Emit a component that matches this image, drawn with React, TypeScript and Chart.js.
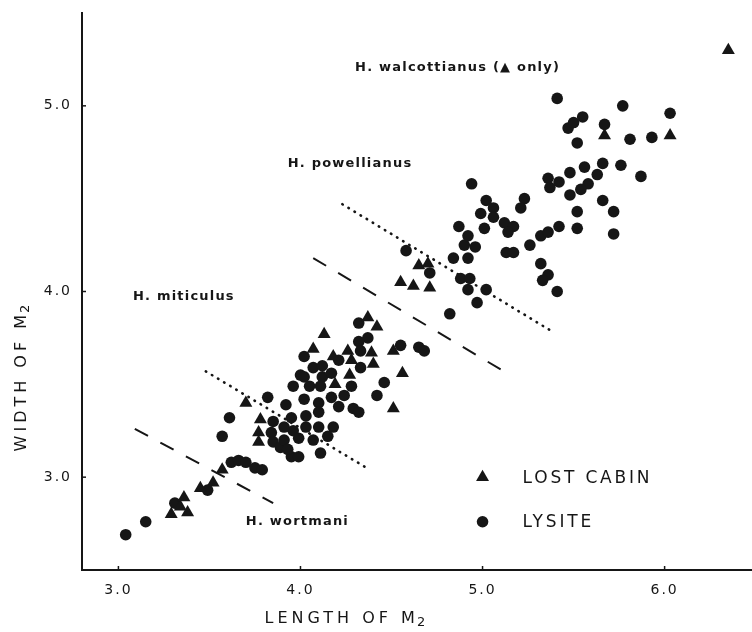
import React, { useEffect, useRef } from 'react';
import { Chart, registerables } from 'chart.js';

Chart.register(...registerables);

// ---- axis ticks ----
const xTicks = [3, 4, 5, 6];
const yTicks = [3, 4, 5];

// ---- LOST CABIN (triangles): [length, width] ----
const lostCabin: number[][] = [
  [3.29, 2.80], [3.34, 2.84], [3.36, 2.89], [3.38, 2.81], [3.45, 2.94], [3.52, 2.97], [3.57, 3.04],
  [3.70, 3.40], [3.78, 3.31], [3.77, 3.24], [3.77, 3.19],
  [4.37, 3.86], [4.42, 3.81], [4.13, 3.77], [4.07, 3.69], [4.26, 3.68], [4.18, 3.65], [4.39, 3.67],
  [4.40, 3.61], [4.28, 3.63], [4.27, 3.55], [4.19, 3.50],
  [4.51, 3.68], [4.56, 3.56], [4.51, 3.37],
  [4.55, 4.05], [4.62, 4.03], [4.71, 4.02], [4.65, 4.14], [4.70, 4.15],
  [5.67, 4.84], [6.03, 4.84], [6.35, 5.30],
];

// ---- LYSITE (circles): [length, width] ----
const lysite: number[][] = [
  [3.04, 2.69], [3.15, 2.76], [3.31, 2.86], [3.49, 2.93], [3.62, 3.08], [3.66, 3.09], [3.70, 3.08],
  [3.75, 3.05], [3.79, 3.04],
  [3.82, 3.43], [3.61, 3.32], [3.57, 3.22], [3.85, 3.30], [3.84, 3.24], [3.85, 3.19], [3.96, 3.49],
  [4.00, 3.55], [3.92, 3.39], [3.96, 3.25], [3.99, 3.21], [3.89, 3.16], [3.95, 3.11],
  [4.32, 3.83], [4.37, 3.75], [4.32, 3.73], [4.02, 3.65], [4.33, 3.68], [4.21, 3.63], [4.07, 3.59],
  [4.12, 3.60], [4.33, 3.59], [4.02, 3.54], [4.12, 3.54], [4.17, 3.56], [4.05, 3.49], [4.11, 3.49],
  [4.28, 3.49], [4.24, 3.44], [4.17, 3.43], [4.02, 3.42], [4.10, 3.40], [4.21, 3.38], [4.29, 3.37],
  [4.32, 3.35], [4.46, 3.51], [4.42, 3.44], [4.55, 3.71], [4.65, 3.70], [4.68, 3.68],
  [3.95, 3.32], [4.03, 3.33], [4.10, 3.35], [4.03, 3.27], [4.10, 3.27], [4.18, 3.27], [3.91, 3.27],
  [3.91, 3.20], [4.07, 3.20], [4.15, 3.22], [3.93, 3.15], [4.11, 3.13], [3.99, 3.11],
  [4.82, 3.88], [4.58, 4.22], [4.71, 4.10],
  [4.88, 4.07], [4.93, 4.07], [4.92, 4.01], [5.02, 4.01], [4.97, 3.94], [4.84, 4.18], [4.92, 4.18],
  [4.90, 4.25], [4.96, 4.24], [4.92, 4.30], [4.87, 4.35], [5.01, 4.34], [4.99, 4.42], [5.02, 4.49],
  [5.06, 4.45], [5.06, 4.40], [5.12, 4.37], [5.17, 4.35], [5.14, 4.32], [5.23, 4.50], [5.21, 4.45],
  [4.94, 4.58], [5.13, 4.21], [5.17, 4.21], [5.26, 4.25], [5.32, 4.30], [5.36, 4.32], [5.42, 4.35],
  [5.32, 4.15], [5.36, 4.09], [5.33, 4.06], [5.41, 4.00],
  [5.41, 5.04], [5.77, 5.00], [5.47, 4.88], [5.50, 4.91], [5.55, 4.94], [5.67, 4.90], [5.81, 4.82],
  [5.52, 4.80], [5.93, 4.83], [6.03, 4.96], [5.66, 4.69], [5.76, 4.68], [5.56, 4.67], [5.48, 4.64],
  [5.63, 4.63], [5.87, 4.62], [5.58, 4.58], [5.54, 4.55], [5.48, 4.52], [5.36, 4.61], [5.42, 4.59],
  [5.37, 4.56], [5.66, 4.49], [5.72, 4.43], [5.52, 4.43], [5.52, 4.34], [5.72, 4.31],
];

// ---- boundary lines (start, end) ----
const dashedLines: number[][][] = [
  [[3.09, 3.26], [3.85, 2.86]],
  [[4.07, 4.18], [5.10, 3.58]],
];
const dottedLines: number[][][] = [
  [[3.48, 3.57], [4.38, 3.04]],
  [[4.23, 4.47], [5.39, 3.78]],
];

// ---- text ----
const regionLabels = ['H. walcottianus (\u25B2 only)', 'H. powellianus', 'H. miticulus', 'H. wortmani'];
const regionLabelX = [4.30, 3.93, 3.08, 3.70];
const regionLabelY = [5.205, 4.69, 3.97, 2.76];

const legendLabels = ['LOST CABIN', 'LYSITE'];
const legendMarkX = 5.0;
const legendTextX = 5.22;
const legendY = [3.0, 2.76];

const xTitle = 'LENGTH OF M';
const yTitle = 'WIDTH OF M';
const titleSub = '2';
const xTitleCenter = 4.26;
const yTitleCenter = 3.55;

const INK = '#161616';

const overlayPlugin = {
  id: 'overlay',
  beforeDraw(chart: any) {
    chart.ctx.letterSpacing = '2px';
  },
  afterDraw(chart: any) {
    const ctx = chart.ctx;
    const xs = chart.scales.x;
    const ys = chart.scales.y;
    const area = chart.chartArea;
    ctx.save();
    ctx.fillStyle = INK;
    ctx.strokeStyle = INK;

    // inward tick marks
    ctx.lineWidth = 1.5;
    xTicks.forEach((v) => {
      const px = xs.getPixelForValue(v);
      ctx.beginPath();
      ctx.moveTo(px, area.bottom);
      ctx.lineTo(px, area.bottom - 4);
      ctx.stroke();
    });
    yTicks.forEach((v) => {
      const py = ys.getPixelForValue(v);
      ctx.beginPath();
      ctx.moveTo(area.left, py);
      ctx.lineTo(area.left + 4, py);
      ctx.stroke();
    });

    // region labels
    ctx.font = 'bold 13px "DejaVu Sans"';
    ctx.letterSpacing = '1.2px';
    ctx.textAlign = 'left';
    ctx.textBaseline = 'middle';
    regionLabels.forEach((t, i) => {
      ctx.fillText(t, xs.getPixelForValue(regionLabelX[i]), ys.getPixelForValue(regionLabelY[i]));
    });

    // legend
    ctx.font = '17px "DejaVu Sans"';
    ctx.letterSpacing = '2.8px';
    legendLabels.forEach((t, i) => {
      const mx = xs.getPixelForValue(legendMarkX);
      const my = ys.getPixelForValue(legendY[i]);
      ctx.beginPath();
      if (i === 0) {
        const r = 7.5;
        ctx.moveTo(mx, my - r);
        ctx.lineTo(mx + r * Math.sin(Math.PI * 2 / 3), my + r * 0.5);
        ctx.lineTo(mx - r * Math.sin(Math.PI * 2 / 3), my + r * 0.5);
        ctx.closePath();
      } else {
        ctx.arc(mx, my, 5.8, 0, Math.PI * 2);
      }
      ctx.fill();
      ctx.fillText(t, xs.getPixelForValue(legendTextX), my + 1);
    });

    // axis titles
    const mainFont = '16px "DejaVu Sans"';
    const subFont = '13px "DejaVu Sans"';
    const spacing = '4px';
    const drawTitle = (text: string, cx: number, cy: number, rotate: boolean) => {
      ctx.save();
      ctx.translate(cx, cy);
      if (rotate) ctx.rotate(-Math.PI / 2);
      ctx.letterSpacing = spacing;
      ctx.font = mainFont;
      const w1 = ctx.measureText(text).width;
      ctx.font = subFont;
      const w2 = ctx.measureText(titleSub).width;
      const start = -(w1 + w2) / 2;
      ctx.textAlign = 'left';
      ctx.textBaseline = 'middle';
      ctx.font = mainFont;
      ctx.fillText(text, start, 0);
      ctx.font = subFont;
      ctx.fillText(titleSub, start + w1 - 2, 4);
      ctx.restore();
    };
    drawTitle(xTitle, xs.getPixelForValue(xTitleCenter), 619, false);
    drawTitle(yTitle, 22, ys.getPixelForValue(yTitleCenter), true);

    ctx.restore();
  },
};

export default function App() {
  const ref = useRef<HTMLCanvasElement>(null);

  useEffect(() => {
    document.body.style.margin = '0';
    const canvas = ref.current;
    if (!canvas) return;

    const toPts = (arr: number[][]) => arr.map(([x, y]) => ({ x, y }));
    const lineSets: any[] = [
      ...dashedLines.map((l) => ({
        data: toPts(l),
        showLine: true,
        pointRadius: 0,
        borderColor: INK,
        borderWidth: 2,
        borderDash: [15, 14],
        fill: false,
      })),
      ...dottedLines.map((l) => ({
        data: toPts(l),
        showLine: true,
        pointRadius: 0,
        borderColor: INK,
        borderWidth: 2.6,
        borderDash: [0.5, 6.6],
        borderCapStyle: 'round',
        fill: false,
      })),
    ];

    const chart = new Chart(canvas, {
      type: 'scatter',
      data: {
        datasets: [
          {
            label: 'LOST CABIN',
            data: toPts(lostCabin),
            pointStyle: 'triangle',
            pointRadius: 7.5,
            backgroundColor: INK,
            borderColor: INK,
            borderWidth: 0,
          },
          {
            label: 'LYSITE',
            data: toPts(lysite),
            pointStyle: 'circle',
            pointRadius: 5.8,
            backgroundColor: INK,
            borderColor: INK,
            borderWidth: 0,
          },
          ...lineSets,
        ],
      },
      options: {
        responsive: false,
        animation: false,
        devicePixelRatio: 1,
        layout: { autoPadding: false, padding: { top: 13, left: 0, right: 0, bottom: 0 } },
        plugins: { legend: { display: false }, tooltip: { enabled: false } },
        scales: {
          x: {
            type: 'linear',
            min: 2.8,
            max: 6.48,
            afterBuildTicks: (s: any) => {
              s.ticks = xTicks.map((v) => ({ value: v }));
            },
            afterFit: (s: any) => {
              s.height = 62;
              s.paddingLeft = 0;
              s.paddingRight = 0;
            },
            grid: { display: false, drawTicks: false },
            border: { display: true, color: INK, width: 2 },
            ticks: {
              padding: 12,
              color: INK,
              font: { family: "'DejaVu Sans', sans-serif", size: 14 },
              maxRotation: 0,
              autoSkip: false,
              callback: (v: any) => Number(v).toFixed(1),
            },
          },
          y: {
            type: 'linear',
            min: 2.5,
            max: 5.5,
            afterBuildTicks: (s: any) => {
              s.ticks = yTicks.map((v) => ({ value: v }));
            },
            afterFit: (s: any) => {
              s.width = 82;
              s.paddingTop = 0;
              s.paddingBottom = 0;
            },
            grid: { display: false, drawTicks: false },
            border: { display: true, color: INK, width: 2 },
            ticks: {
              padding: 10,
              color: INK,
              font: { family: "'DejaVu Sans', sans-serif", size: 14 },
              autoSkip: false,
              callback: (v: any) => Number(v).toFixed(1),
            },
          },
        },
      },
      plugins: [overlayPlugin],
    } as any);

    return () => chart.destroy();
  }, []);

  return (
    <div style={{ position: 'absolute', left: 0, top: 0, width: 752, height: 632, background: '#fff' }}>
      <canvas ref={ref} width={752} height={632} style={{ display: 'block' }} />
    </div>
  );
}
